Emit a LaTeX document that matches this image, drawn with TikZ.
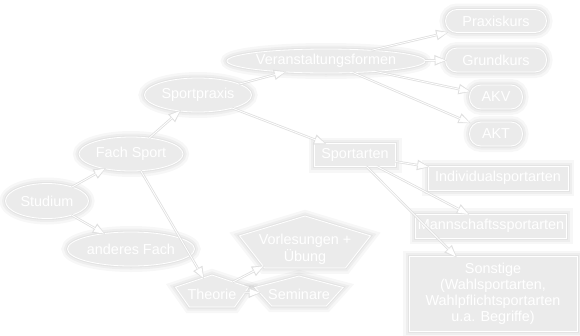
\documentclass[tikz,border=0pt]{standalone}
\usepackage{fontspec}
\setmainfont{Liberation Sans}
\usetikzlibrary{arrows.meta,shapes.geometric}
\tikzset{
    % soft grey halo round every box, in three strokes
    halo/.style={preaction={draw=black, draw opacity=.03, line width=12pt},
        preaction={draw=black, draw opacity=.035, line width=7pt},
        preaction={draw=black, draw opacity=.04, line width=3pt}},
    box base/.style={draw=white, line width=0.8pt, fill=black!8, text=white,
        halo, font=\fontsize{14.4}{17}\selectfont, inner sep=0pt, outer sep=0pt},
    oval/.style={box base, ellipse, minimum height=34pt},
    pill/.style={box base, rectangle, rounded corners=11.5pt, minimum height=24pt},
    plainbox/.style={box base, rectangle, minimum height=24pt, align=center},
    % pentagon: regular polygon stretched along x, text set by a separate node
    pentbox/.style={box base, regular polygon, regular polygon sides=5, transform shape},
    pentlabel/.style={text=white, font=\fontsize{14.4}{17}\selectfont, align=center, inner sep=0pt},
    link/.style={draw=white, line width=0.8pt, -{Triangle[length=10pt,width=7pt]},
        preaction={draw=black!12, line width=2.4pt, shorten >=-1.5pt,
            -{Triangle[length=12.5pt,width=10pt]}}},
}
\begin{document}
\begin{tikzpicture}[x=1pt,y=-1pt]
    \useasboundingbox[fill=white] (0,0) rectangle (580,335);
    % ellipses
    \node[oval, minimum width=83pt, minimum height=35pt] (studium) at (47,201) {Studium};
    \node[oval, minimum width=104pt] (fach) at (131,154) {Fach Sport};
    \node[oval, minimum width=127pt] (anderes) at (131,249) {anderes Fach};
    \node[oval, minimum width=107pt] (praxis) at (198,95) {Sportpraxis};
    \node[oval, minimum width=191pt, minimum height=24pt] (formen) at (326,61) {Veranstaltungsformen};
    % rounded boxes
    \node[pill, minimum width=101pt, minimum height=23pt] (praxiskurs) at (496,21) {Praxiskurs};
    \node[pill, minimum width=101pt] (grundkurs) at (496,60) {Grundkurs};
    \node[pill, minimum width=53pt] (akv) at (496,97) {AKV};
    \node[pill, minimum width=53pt] (akt) at (496,134) {AKT};
    % boxes
    \node[plainbox, minimum width=81pt, minimum height=23pt] (arten) at (355,155) {Sportarten};
    \node[plainbox, minimum width=140pt] (indiv) at (498,178) {Individualsportarten};
    \node[plainbox, minimum width=151pt] (mann) at (491,226) {Mannschaftssportarten};
    \node[plainbox, minimum width=168pt, minimum height=75pt, font=\fontsize{14.4}{16}\selectfont]
        (sonst) at (493,294) {Sonstige\\(Wahlsportarten,\\Wahlpflichtsportarten\\u.a. Begriffe)};
    % pentagons
    \node[pentbox, xscale=2.17, minimum size=35.4pt] (theorie) at (212,292.7) {};
    \node[pentlabel] (theorie text) at (212,294) {Theorie};
    \node[pentbox, xscale=2.79, minimum size=33.2pt] (seminare) at (299,292.6) {};
    \node[pentlabel] (seminare text) at (299,294) {Seminare};
    \node[pentbox, xscale=2.4, minimum size=57.4pt] (vorl) at (305,244.7) {};
    \node[pentlabel] (vorl text) at (305,249) {Vorlesungen +\\Übung};

    % connectors
    \draw[link] (studium) -- (fach);
    \draw[link] (studium) -- (anderes);
    \draw[link] (fach) -- (praxis);
    \draw[link] (fach) -- (theorie);
    \draw[link] (praxis) -- (formen);
    \draw[link] (praxis) -- (arten);
    \foreach \t in {praxiskurs,grundkurs,akv,akt}
        \draw[link] (formen) -- (\t);
    \foreach \t in {indiv,mann,sonst}
        \draw[link] (arten) -- (\t);
    \draw[link] (theorie) -- (vorl);
    \draw[link] (theorie) -- (seminare);
\end{tikzpicture}
\end{document}
